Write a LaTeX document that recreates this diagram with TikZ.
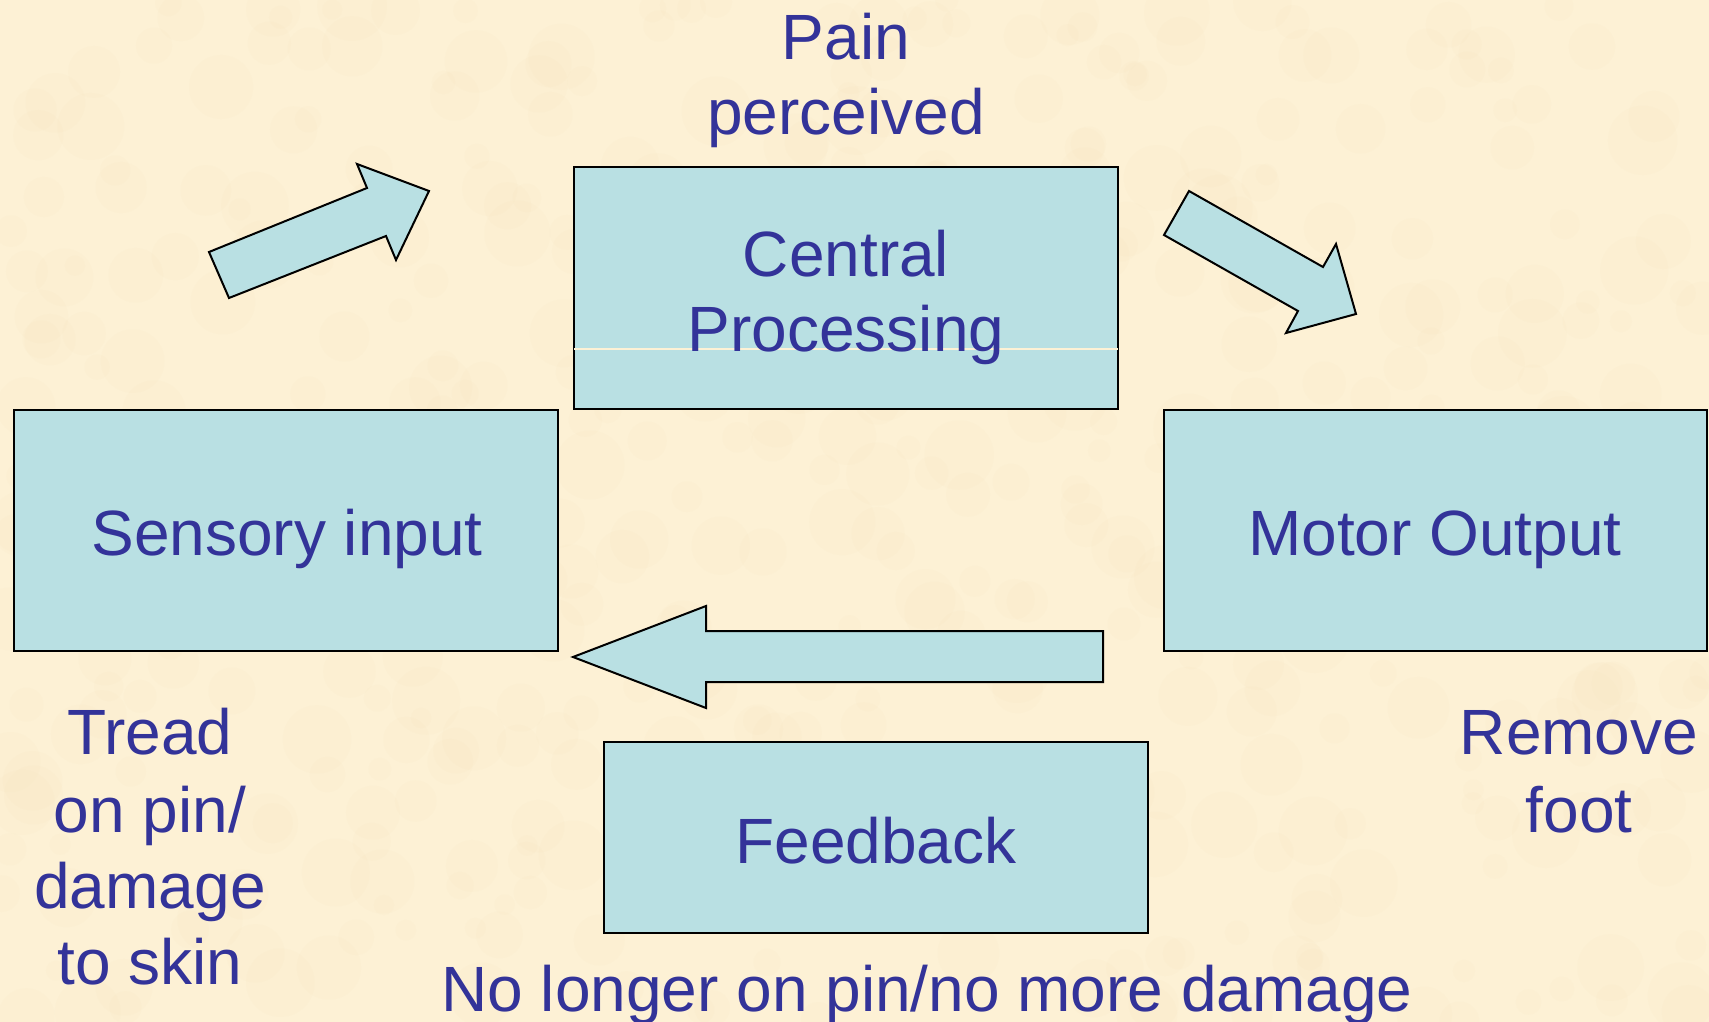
\documentclass[tikz,border=0pt]{standalone}
\usepackage{fontspec}
\setmainfont{Liberation Sans}
\definecolor{bg}{RGB}{253,241,213}
\definecolor{mottle}{RGB}{240,222,178}
\definecolor{boxfill}{RGB}{185,224,227}
\definecolor{txt}{RGB}{51,51,153}
\begin{document}
\begin{tikzpicture}[x=0.5pt,y=-0.5pt,
  box/.style={draw=black, line width=1pt, fill=boxfill, inner sep=0pt},
  lbl/.style={text=txt, font=\fontsize{32}{38.5}\selectfont, inner sep=0pt, anchor=base, align=center},
  blockarrow/.style={draw=black, line width=1pt, fill=boxfill, line join=miter}]
\useasboundingbox (0,0) rectangle (1709,1022);
\fill[bg] (0,0) rectangle (1709,1022);
\begin{scope}
\clip (0,0) rectangle (1709,1022);
\pgfmathsetseed{11}
\foreach \i in {1,...,500}{
  \pgfmathsetmacro{\px}{rnd*1709}
  \pgfmathsetmacro{\py}{rnd*1022}
  \pgfmathsetmacro{\pr}{10+rnd*25}
  \fill[mottle, opacity=0.07] (\px,\py) circle[radius=\pr*0.5pt];
}
\end{scope}
% boxes
\node[box, minimum width=272pt, minimum height=121pt] (central) at (846,288) {};
\node[box, minimum width=272pt, minimum height=120.5pt] (sensory) at (286,530.5) {};
\node[box, minimum width=271.5pt, minimum height=120.5pt] (motor) at (1435.5,530.5) {};
\node[box, minimum width=272pt, minimum height=95.5pt] (feedback) at (876,837.5) {};
\draw[bg, line width=0.6pt] ([xshift=0.5pt]central.west |- 0,349) -- ([xshift=-0.5pt]central.east |- 0,349);
% block arrows
\draw[blockarrow] (229,298) -- (209,252) -- (367,188) -- (357,164) -- (429,191) -- (396,260) -- (386,236) -- cycle;
\draw[blockarrow] (1189,191) -- (1164,235) -- (1298,311) -- (1286,333) -- (1356,314) -- (1336,244) -- (1323,267) -- cycle;
\draw[blockarrow] (573,657) -- (706,606) -- (706,631) -- (1103,631) -- (1103,682) -- (706,682) -- (706,708) -- cycle;
% labels
\node[lbl] (pain) at (846,60) {Pain};
\node[lbl] (perc) at (846,134) {perceived};
\node[lbl] (cen1) at (846,276) {Central};
\node[lbl] (cen2) at (846,351) {Processing};
\node[lbl] (sens) at (287,555) {Sensory input};
\node[lbl] (mot) at (1435,555) {Motor Output};
\node[lbl] (fb) at (876,863) {Feedback};
\node[lbl] (t1) at (150,754) {Tread};
\node[lbl] (t2) at (150,832) {on pin/};
\node[lbl] (t3) at (150,908) {damage};
\node[lbl] (t4) at (150,984) {to skin};
\node[lbl] (r1) at (1579,754) {Remove};
\node[lbl] (r2) at (1579,832) {foot};
\node[lbl] (nl) at (927,1011) {No longer on pin/no more damage};
\end{tikzpicture}
\end{document}
